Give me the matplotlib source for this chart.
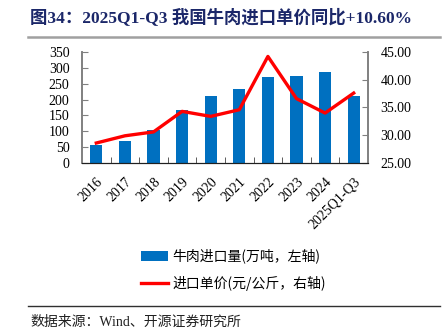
import matplotlib
matplotlib.use("Agg")
import matplotlib.pyplot as plt
import numpy as np
from matplotlib.lines import Line2D
from matplotlib.patches import Patch

plt.rcParams["font.family"] = ["Liberation Serif", "Noto Sans CJK SC"]

categories = ["2016", "2017", "2018", "2019", "2020", "2021", "2022", "2023", "2024", "2025Q1-Q3"]
volume = [58, 70, 105, 167, 212, 234, 270, 275, 288, 212]
price = [28.6, 29.9, 30.6, 34.3, 33.4, 34.6, 44.2, 36.6, 34.0, 37.6]

title = "图34：2025Q1-Q3 我国牛肉进口单价同比+10.60%"
source = "数据来源：Wind、开源证券研究所"
label_bar = "牛肉进口量(万吨，左轴)"
label_line = "进口单价(元/公斤，右轴)"

BLUE = "#0070C0"
RED = "#FF0000"

W, H = 447, 335
fig = plt.figure(figsize=(W / 100, H / 100), dpi=100)

ax = fig.add_axes([82 / W, 1 - 163 / H, 286 / W, 111 / H])
x = np.arange(len(categories))
ax.bar(x, volume, 0.42, color=BLUE, zorder=2)
ax.set_xlim(-0.5, len(categories) - 0.5)
ax.set_ylim(0, 350)
ax.set_yticks(np.arange(0, 351, 50))
ax.set_xticks(x)
ax.set_xticklabels(categories, rotation=45, ha="right", va="top", rotation_mode="anchor")
ax.set_xticks(np.arange(0.5, len(categories) - 0.5, 1), minor=True)
ax.tick_params(axis="x", which="major", length=0, labelsize=10, pad=9)
ax.tick_params(axis="x", which="minor", direction="in", length=4, color="#404040")
ax.tick_params(axis="y", direction="in", length=4, color="#808080", labelsize=10, pad=9)

ax2 = ax.twinx()
ax2.plot(x, price, color=RED, lw=2.4, zorder=3)
ax2.set_ylim(25, 45)
ax2.set_yticks(np.arange(25, 45.1, 5))
ax2.set_yticklabels([f"{v:.2f}" for v in np.arange(25, 45.1, 5)])
ax2.tick_params(axis="y", direction="in", length=4, color="#808080", labelsize=10, pad=9)

for a in (ax, ax2):
    a.spines["top"].set_visible(False)
    a.spines["left"].set_color("#808080")
    a.spines["right"].set_color("#808080")
    a.spines["bottom"].set_color("#202020")
    a.spines["left"].set_linewidth(1.2)
    a.spines["right"].set_linewidth(1.2)

handles = [
    Patch(facecolor=BLUE, edgecolor="none"),
    Line2D([0], [0], color=RED, lw=2.4),
]
fig.legend(handles, [label_bar, label_line], loc="center left",
           bbox_to_anchor=(128 / W, 1 - 270 / H), frameon=False,
           handlelength=2.0, handletextpad=0.3, labelspacing=0.9,
           prop={"family": ["Noto Sans CJK SC"], "size": 10})

fig.text(30 / W, 1 - 17 / H, title, fontsize=12.5, fontweight="bold",
         color="#1B2769", va="center", ha="left")
fig.add_artist(Line2D([28 / W, 440 / W], [1 - 37 / H, 1 - 37 / H], color="#A0A0A0", lw=1.8))
fig.add_artist(Line2D([28 / W, 440 / W], [1 - 306 / H, 1 - 306 / H], color="#303030", lw=1.0))
fig.text(30 / W, 1 - 322 / H, source, fontsize=10, color="#202020", va="center", ha="left")

fig.savefig("out.png", dpi=100)
